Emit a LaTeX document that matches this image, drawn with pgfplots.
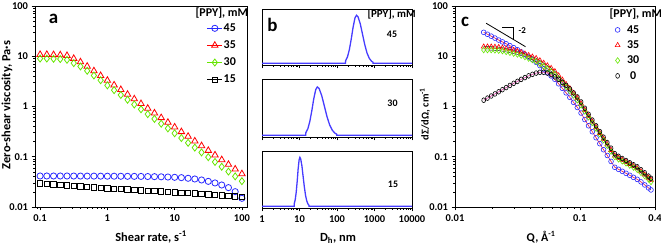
\documentclass[border=0pt]{standalone}
\usepackage{pgfplots}
\pgfplotsset{compat=1.18}
\usepackage{pgfplotstable}
\usepackage{fontspec}
\setmainfont{Carlito}

\definecolor{cblue}{RGB}{40,40,255}
\definecolor{cred}{RGB}{255,0,0}
\definecolor{cgreen}{RGB}{102,230,0}
\definecolor{bline}{RGB}{70,60,255}
\definecolor{fitred}{RGB}{230,30,70}
\definecolor{fitmag}{RGB}{225,60,170}

\pgfplotstableread{
x e45 e35 e30 e15
0.1 0.0414 10.8 9.0 0.0296
0.1259 0.0414 10.8 9.0 0.0289
0.1585 0.0414 10.7 8.9 0.0282
0.1995 0.0414 10.6 8.8 0.0275
0.2512 0.0414 10.3 8.5 0.0269
0.3162 0.0413 9.0 7.3 0.0262
0.3981 0.0413 7.7 6.27 0.0256
0.5012 0.0412 6.3 5.13 0.0251
0.6310 0.0412 5.1 4.14 0.0245
0.7943 0.0411 4.1 3.33 0.0240
1 0.0410 3.3 2.63 0.0235
1.259 0.0410 2.67 2.11 0.0231
1.585 0.0409 2.16 1.696 0.0227
1.995 0.0408 1.74 1.362 0.0223
2.512 0.0407 1.41 1.094 0.0219
3.162 0.0406 1.135 0.879 0.0215
3.981 0.0404 0.916 0.705 0.0211
5.012 0.0402 0.740 0.566 0.0207
6.310 0.0399 0.597 0.455 0.0203
7.943 0.0395 0.482 0.366 0.0200
10 0.0390 0.389 0.293 0.0196
12.59 0.0384 0.314 0.236 0.0192
15.85 0.0373 0.254 0.189 0.0189
19.95 0.0361 0.205 0.152 0.0185
25.12 0.0345 0.165 0.122 0.0182
31.62 0.0324 0.133 0.098 0.0179
39.81 0.0301 0.108 0.0787 0.0175
50.12 0.0274 0.0869 0.0632 0.0171
63.10 0.0243 0.0702 0.0507 0.0167
79.43 0.0202 0.0566 0.0407 0.0164
100 0.0149 0.0457 0.0327 0.0160
}\tabA

\pgfplotstableread{
d y
1 0
169 0
169.8 0.054
190.5 0.135
213.8 0.286
239.9 0.506
269.2 0.755
302.0 0.946
331.1 1.0
363.1 0.969
416.9 0.823
478.6 0.607
549.5 0.389
631.0 0.216
724.4 0.105
831.8 0.044
912.0 0.023
915 0
10000 0
}\tabBtop

\pgfplotstableread{
d y
1 0
14.6 0
14.79 0.052
16.71 0.131
18.84 0.277
21.28 0.491
23.99 0.732
27.10 0.918
29.85 0.97
33.27 0.940
39.08 0.798
45.92 0.589
53.95 0.377
63.53 0.210
74.64 0.102
87.70 0.043
97.7 0.022
98.5 0
10000 0
}\tabBmid

\pgfplotstableread{
d y
1 0
7.2 0
7.24 0.054
7.69 0.135
8.17 0.286
8.67 0.506
9.18 0.755
9.75 0.946
10.23 1.0
10.76 0.969
11.61 0.823
12.50 0.607
13.49 0.389
14.55 0.216
15.67 0.105
16.90 0.044
17.78 0.023
17.9 0
10000 0
}\tabBbot

\pgfplotstableread{
Q b45 b35 b30 b0
0.01698 29.9 15.49 13.3 1.334
0.01820 27.4 15.49 13.3 1.469
0.01950 25.1 15.49 13.27 1.618
0.02089 23.0 15.31 13.12 1.782
0.02239 21.0 15.14 12.94 1.963
0.02399 19.3 14.76 12.65 2.163
0.02570 17.7 14.19 12.19 2.382
0.02754 16.2 13.65 11.75 2.624
0.02951 14.8 13.12 11.30 2.891
0.03162 13.5 12.62 10.86 3.162
0.03388 12.2 12.02 10.35 3.467
0.03631 10.84 11.22 9.66 3.758
0.03890 9.66 10.47 9.02 4.074
0.04169 8.61 9.77 8.41 4.365
0.04467 7.59 9.12 7.85 4.624
0.04786 6.53 8.24 7.10 4.786
0.05129 5.56 7.33 6.31 4.786
0.05495 4.73 6.53 5.62 4.624
0.05888 4.06 5.81 5.00 4.315
0.06310 3.47 5.01 4.34 3.890
0.06761 2.83 4.13 3.59 3.467
0.07244 2.30 3.39 2.96 3.020
0.07762 1.87 2.78 2.45 2.630
0.08318 1.52 2.29 2.04 2.239
0.08913 1.21 1.84 1.66 1.862
0.09550 0.957 1.46 1.33 1.549
0.10233 0.741 1.14 1.054 1.230
0.10965 0.550 0.855 0.798 0.923
0.11749 0.413 0.649 0.612 0.700
0.12589 0.315 0.499 0.473 0.537
0.13490 0.239 0.384 0.363 0.412
0.14454 0.182 0.295 0.279 0.316
0.15488 0.138 0.227 0.214 0.245
0.16596 0.106 0.176 0.166 0.191
0.17783 0.0807 0.1355 0.127 0.148
0.19055 0.0617 0.1047 0.0989 0.115
0.20417 0.0562 0.0951 0.0891 0.102
0.21878 0.0513 0.0863 0.0813 0.0923
0.23442 0.0468 0.0787 0.0741 0.0841
0.25119 0.0427 0.0713 0.0668 0.0759
0.26915 0.0389 0.0646 0.0610 0.0692
0.28840 0.0355 0.0585 0.0550 0.0631
0.30903 0.0316 0.0509 0.0479 0.0550
0.33113 0.0275 0.0441 0.0412 0.0479
0.35481 0.0240 0.0381 0.0355 0.0412
0.37154 0.0219 0.0347 0.0316 0.0372
}\tabC

\pgfplotsset{
  mybase/.style={scale only axis, anchor=south west, tick align=outside, tick pos=left,
    major tick length=3.5bp, minor tick length=2bp,
    axis line style={line width=0.8bp},
    every tick/.style={black, line width=0.6bp},
    ticklabel style={font=\bfseries\fontsize{10.5}{11}\selectfont},
    xticklabel style={yshift=-1bp}},
  lineleg/.style={legend image code/.code={\draw[##1,sharp plot,mark repeat=2,mark phase=2] plot coordinates {(0bp,0bp) (7.5bp,0bp) (15bp,0bp)};}},
}

\begin{document}
\begin{tikzpicture}
\useasboundingbox (0bp,0bp) rectangle (661bp,250bp);

% ---------------- panel a ----------------
\begin{axis}[mybase, xmode=log, ymode=log, at={(35bp,43bp)}, width=212bp, height=201bp,
  xmin=0.084, xmax=119, ymin=0.01, ymax=100,
  xtick={0.1,1,10,100}, xticklabels={0.1,1,10,100},
  ytick={0.01,0.1,1,10,100}, yticklabels={0.01,0.1,1,10,100},
  minor xtick={0.09,0.2,0.3,0.4,0.5,0.6,0.7,0.8,0.9,2,3,4,5,6,7,8,9,20,30,40,50,60,70,80,90},
  minor ytick={0.02,0.03,0.04,0.05,0.06,0.07,0.08,0.09,0.2,0.3,0.4,0.5,0.6,0.7,0.8,0.9,2,3,4,5,6,7,8,9,20,30,40,50,60,70,80,90},
  legend style={at={(0.81,0.918)}, anchor=north west, draw=none, fill=none,
    font=\bfseries\fontsize{12}{12}\selectfont, row sep=5.8bp, inner sep=0pt,
    nodes={inner sep=1bp}},
  legend cell align=left]
\addplot[only marks, cblue, mark=o, mark size=3.1bp, line width=0.8bp, lineleg] table[x=x,y=e45] {\tabA};
\addlegendentry{45}
\addplot[only marks, cred, mark=triangle, mark size=3.7bp, line width=0.8bp, lineleg] table[x=x,y=e35] {\tabA};
\addlegendentry{35}
\addplot[only marks, cgreen, mark=diamond, mark size=3.5bp, line width=0.8bp, lineleg] table[x=x,y=e30] {\tabA};
\addlegendentry{30}
\addplot[only marks, black, mark=square, mark size=2.7bp, line width=0.8bp, lineleg] table[x=x,y=e15] {\tabA};
\addlegendentry{15}
\end{axis}

% ---------------- panel b ----------------
\begin{axis}[mybase, xmode=log, at={(262bp,185bp)}, width=150bp, height=56bp,
  xmin=1, xmax=10000, ymin=-0.035, ymax=1.13, ytick=\empty,
  xtick={1,10,100,1000,10000}, xticklabels={},
  minor xtick={2,3,4,5,6,7,8,9,20,30,40,50,60,70,80,90,200,300,400,500,600,700,800,900,2000,3000,4000,5000,6000,7000,8000,9000}]
\addplot[bline, line width=1.3bp] table[x=d,y=y] {\tabBtop};
\end{axis}
\begin{axis}[mybase, xmode=log, at={(262bp,113bp)}, width=150bp, height=58bp,
  xmin=1, xmax=10000, ymin=-0.035, ymax=1.13, ytick=\empty,
  xtick={1,10,100,1000,10000}, xticklabels={},
  minor xtick={2,3,4,5,6,7,8,9,20,30,40,50,60,70,80,90,200,300,400,500,600,700,800,900,2000,3000,4000,5000,6000,7000,8000,9000}]
\addplot[bline, line width=1.3bp] table[x=d,y=y] {\tabBmid};
\end{axis}
\begin{axis}[mybase, xmode=log, at={(262bp,42bp)}, width=150bp, height=57bp,
  xmin=1, xmax=10000, ymin=-0.035, ymax=1.13, ytick=\empty,
  xtick={1,10,100,1000,10000}, xticklabels={1,10,100,1000,10000},
  minor xtick={2,3,4,5,6,7,8,9,20,30,40,50,60,70,80,90,200,300,400,500,600,700,800,900,2000,3000,4000,5000,6000,7000,8000,9000}]
\addplot[bline, line width=1.3bp] table[x=d,y=y] {\tabBbot};
\end{axis}

% ---------------- panel c ----------------
\begin{axis}[mybase, xmode=log, ymode=log, at={(455bp,43bp)}, width=200bp, height=201bp,
  xmin=0.01, xmax=0.4, ymin=0.01, ymax=100,
  xtick={0.01,0.1,0.4}, xticklabels={0.01,0.1,0.4},
  ytick={0.01,0.1,1,10,100}, yticklabels={0.01,0.1,1,10,100},
  minor xtick={0.02,0.03,0.04,0.05,0.06,0.07,0.08,0.09,0.2,0.3},
  minor ytick={0.02,0.03,0.04,0.05,0.06,0.07,0.08,0.09,0.2,0.3,0.4,0.5,0.6,0.7,0.8,0.9,2,3,4,5,6,7,8,9,20,30,40,50,60,70,80,90},
  legend style={at={(0.8,0.91)}, anchor=north west, draw=none, fill=none,
    font=\bfseries\fontsize{12}{12}\selectfont, row sep=4bp, inner sep=0pt,
    nodes={inner sep=1bp}, /tikz/every odd column/.append style={column sep=6bp}},
  legend cell align=center]
\addplot[only marks, cblue, mark=o, mark size=2.4bp, line width=0.6bp] table[x=Q,y=b45] {\tabC};
\addlegendentry{45}
\addplot[only marks, cred, mark=triangle, mark size=2.8bp, line width=0.6bp] table[x=Q,y=b35] {\tabC};
\addlegendentry{35}
\addplot[only marks, cgreen, mark=diamond, mark size=2.8bp, line width=0.6bp] table[x=Q,y=b30] {\tabC};
\addlegendentry{30}
\addplot[only marks, black, mark=o, mark size=2.4bp, line width=0.6bp, mark options={xscale=0.8}] table[x=Q,y=b0] {\tabC};
\addlegendentry{0}
\addplot[fitred, line width=0.6bp, forget plot] table[x=Q,y=b45] {\tabC};
\addplot[black, line width=0.45bp, forget plot] table[x=Q,y=b35] {\tabC};
\addplot[black, line width=0.4bp, forget plot] table[x=Q,y=b30] {\tabC};
\addplot[fitmag, line width=0.6bp, forget plot] table[x=Q,y=b0] {\tabC};
\draw[black, line width=0.8bp] (axis cs:0.01778,45.3) -- (axis cs:0.0367,15.5);
\draw[black, line width=0.8bp] (axis cs:0.0238,37.7) -- (axis cs:0.0292,37.7) -- (axis cs:0.0292,21.8);
\node[font=\bfseries\fontsize{9}{9}\selectfont, anchor=west] at (axis cs:0.0303,33) {-2};
\end{axis}

% ---------------- texts ----------------
\node[font=\bfseries\fontsize{19}{19}\selectfont] at (53.5bp,231bp) {a};
\node[font=\bfseries\fontsize{19}{19}\selectfont] at (272.5bp,225bp) {b};
\node[font=\bfseries\fontsize{19}{19}\selectfont] at (465bp,228bp) {c};

\node[font=\bfseries\fontsize{12}{12}\selectfont, anchor=west] at (192bp,237bp) {[PPY], mM};
\node[font=\bfseries\fontsize{11}{11}\selectfont, anchor=west] at (364bp,236bp) {[PPY], mM};
\node[font=\bfseries\fontsize{12}{12}\selectfont, anchor=west] at (606bp,236bp) {[PPY], mM};

\node[font=\bfseries\fontsize{10}{10}\selectfont] at (392bp,215.5bp) {45};
\node[font=\bfseries\fontsize{10}{10}\selectfont] at (392.5bp,146.5bp) {30};
\node[font=\bfseries\fontsize{10}{10}\selectfont] at (393bp,65.5bp) {15};

\node[font=\bfseries\fontsize{12.5}{13}\selectfont] at (151bp,13bp) {Shear rate, s\textsuperscript{-1}};
\node[font=\bfseries\fontsize{12.5}{13}\selectfont, rotate=90] at (7bp,145bp) {Zero-shear viscosity, Pa·s};
\node[font=\bfseries\fontsize{12.5}{13}\selectfont] at (338bp,12bp) {D\textsubscript{h}, nm};
\node[font=\bfseries\fontsize{12}{13}\selectfont] at (541bp,13bp) {Q, Å\textsuperscript{-1}};
\node[font=\bfseries\fontsize{10.5}{11}\selectfont, rotate=90] at (425bp,136bp) {dΣ/dΩ, cm\textsuperscript{-1}};
\end{tikzpicture}
\end{document}
